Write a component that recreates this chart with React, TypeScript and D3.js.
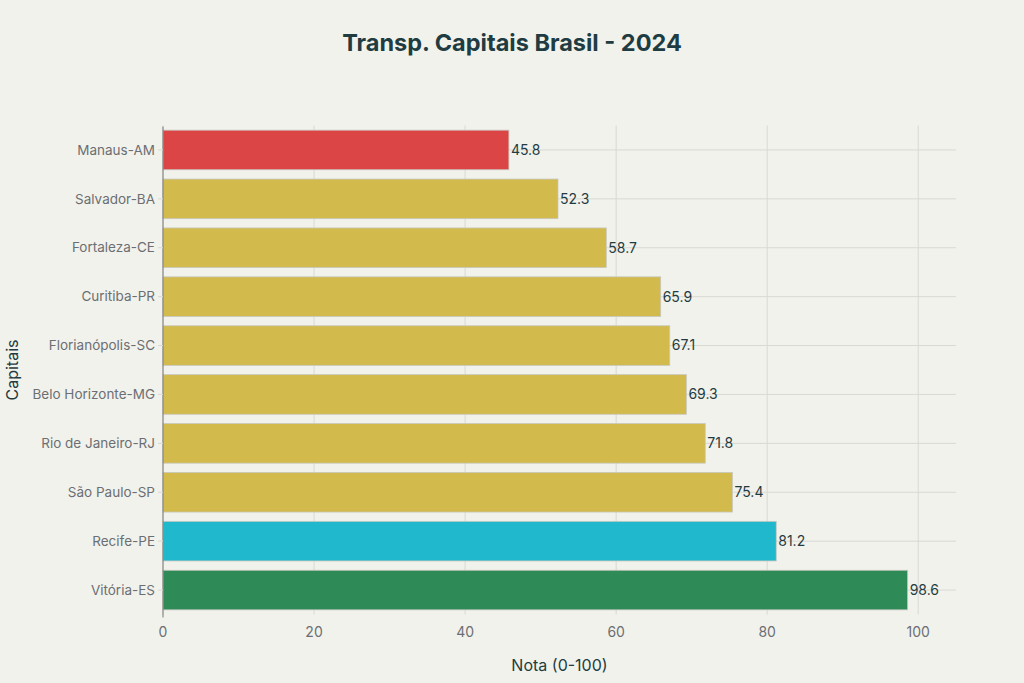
import React from "react";
import * as d3 from "d3";

const categories = [
  "Manaus-AM",
  "Salvador-BA",
  "Fortaleza-CE",
  "Curitiba-PR",
  "Florianópolis-SC",
  "Belo Horizonte-MG",
  "Rio de Janeiro-RJ",
  "São Paulo-SP",
  "Recife-PE",
  "Vitória-ES",
];
const values = [45.8, 52.3, 58.7, 65.9, 67.1, 69.3, 71.8, 75.4, 81.2, 98.6];
const barColors = [
  "#DB4545",
  "#D2BA4C",
  "#D2BA4C",
  "#D2BA4C",
  "#D2BA4C",
  "#D2BA4C",
  "#D2BA4C",
  "#D2BA4C",
  "#1FB8CD",
  "#2E8B57",
];
const xTicks = [0, 20, 40, 60, 80, 100];

const W = 1024;
const H = 683;
const M = { left: 163, right: 68, top: 125.5, bottom: 68.5 };
const FONT = "Inter, 'Open Sans', sans-serif";

export default function App() {
  const x = d3.scaleLinear().domain([0, 105]).range([M.left, W - M.right]);
  const y = d3
    .scaleBand<string>()
    .domain(categories)
    .range([M.top, H - M.bottom])
    .paddingInner(0.19)
    .paddingOuter(0.095);
  const plotTop = M.top;
  const plotBottom = H - M.bottom;
  return (
    <svg
      width={W}
      height={H}
      style={{ position: "absolute", left: 0, top: 0, background: "#F2F2EC" }}
      fontFamily={FONT}
    >
      <rect x={0} y={0} width={W} height={H} fill="#F2F2EC" />
      <text
        x={512}
        y={51}
        textAnchor="middle"
        fontSize={23.5}
        fontWeight={700}
        fill="#1F3C42"
      >
        Transp. Capitais Brasil - 2024
      </text>
      {/* vertical grid */}
      {xTicks.map((t) => (
        <line
          key={"gx" + t}
          x1={x(t)}
          x2={x(t)}
          y1={plotTop}
          y2={plotBottom}
          stroke="#D9D9D4"
          strokeWidth={1}
        />
      ))}
      {/* horizontal grid */}
      {categories.map((c) => {
        const cy = (y(c) as number) + y.bandwidth() / 2;
        return (
          <line
            key={"gy" + c}
            x1={M.left}
            x2={W - M.right}
            y1={cy}
            y2={cy}
            stroke="#D9D9D4"
            strokeWidth={1}
          />
        );
      })}
      {/* bars */}
      {categories.map((c, i) => (
        <rect
          key={"b" + c}
          x={x(0)}
          y={y(c) as number}
          width={x(values[i]) - x(0)}
          height={y.bandwidth()}
          fill={barColors[i]}
          stroke="#C8C8C0"
          strokeWidth={0.8}
        />
      ))}
      {/* value labels */}
      {categories.map((c, i) => (
        <text
          key={"v" + c}
          x={x(values[i]) + 2}
          y={(y(c) as number) + y.bandwidth() / 2}
          dy="0.35em"
          fontSize={14}
          fill="#1F3C42"
        >
          {values[i].toFixed(1)}
        </text>
      ))}
      {/* y axis line */}
      <line
        x1={M.left}
        x2={M.left}
        y1={plotTop + 1}
        y2={plotBottom + 3}
        stroke="#777"
        strokeWidth={1}
      />
      {/* y ticks & labels */}
      {categories.map((c) => {
        const cy = (y(c) as number) + y.bandwidth() / 2;
        return (
          <g key={"yl" + c}>
            <line x1={M.left - 5} x2={M.left} y1={cy} y2={cy} stroke="#D9D9D4" />
            <text
              x={M.left - 8}
              y={cy}
              dy="0.35em"
              textAnchor="end"
              fontSize={13.5}
              fill="#6B6F73"
            >
              {c}
            </text>
          </g>
        );
      })}
      {/* x tick labels */}
      {xTicks.map((t) => (
        <text
          key={"xl" + t}
          x={x(t)}
          y={632}
          dy="0.35em"
          textAnchor="middle"
          fontSize={14}
          fill="#6B6F73"
        >
          {t}
        </text>
      ))}
      <text
        x={(M.left + W - M.right) / 2}
        y={665}
        dy="0.35em"
        textAnchor="middle"
        fontSize={16}
        fill="#1F3C42"
      >
        Nota (0-100)
      </text>
      <text
        transform={`translate(12, ${(plotTop + plotBottom) / 2}) rotate(-90)`}
        dy="0.35em"
        textAnchor="middle"
        fontSize={16}
        fill="#1F3C42"
      >
        Capitais
      </text>
    </svg>
  );
}
